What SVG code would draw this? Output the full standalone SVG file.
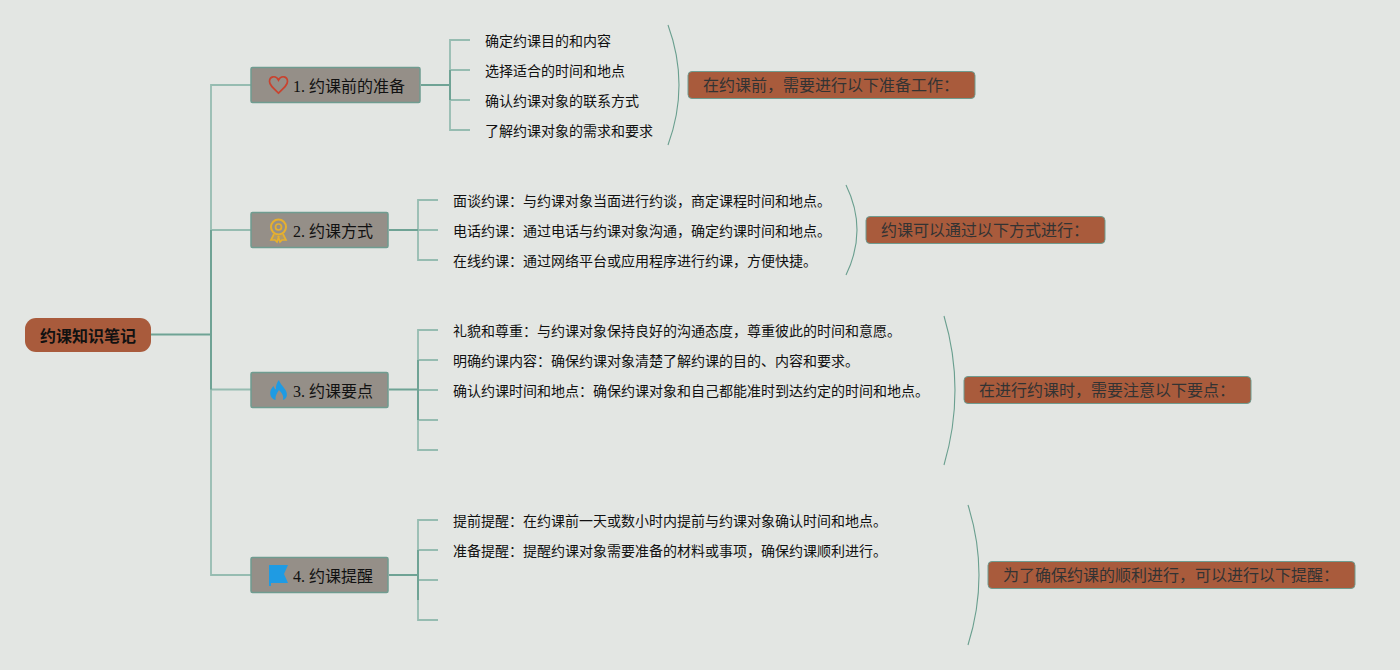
<svg xmlns="http://www.w3.org/2000/svg" width="1400" height="670" viewBox="0 0 1400 670">
<style>
text{font-family:"Noto Sans CJK SC","Noto Sans",sans-serif;fill:#111}
.leaf{font-size:14px}
.topic{font-size:16px;font-family:"Liberation Serif","Noto Sans CJK SC",serif;fill:#111}
.topic .c{font-family:"Noto Sans CJK SC",sans-serif}
.sum{font-size:16px;fill:#333}
.t{fill:#958f88;stroke:#6f9c90;stroke-width:1.5}
.s{fill:#a95b3c;stroke:#6f9c90;stroke-width:1}
.c1{fill:none;stroke:#96bcb1;stroke-width:1.8}
.c2{fill:none;stroke:#6fa395;stroke-width:2}
.br{fill:none;stroke:#6a9f8f;stroke-width:1.1}
</style>
<rect width="1400" height="670" fill="#e3e6e3"/>
<g id="connectors">
<path class="c1" d="M251 85H211V575H251M211 230H251M211 389.500H251"/>
<path class="c2" d="M151 334.500H211M211 230V389.500"/>
<path class="c1" d="M470 40H450V130H470M450 70H470M450 100H470"/>
<path class="c1" d="M438 200H418V260H438M418 230H438"/>
<path class="c1" d="M438 330H418V450H438M418 360H438M418 390H438M418 420H438"/>
<path class="c1" d="M438 520H418V620H438M418 550H438M418 580H438"/>
<path class="c2" d="M421 85H450M450 70V100M389 230H418M389 389.500H418M418 360V420M389 575H418M418 550V600"/>
<path class="br" d="M668 25Q690 85 668 145"/>
<path class="br" d="M846 185Q868 230 846 275"/>
<path class="br" d="M944 316Q966 390 944 465"/>
<path class="br" d="M968 505Q990 575 968 645"/>
</g>
<g id="root"><rect x="25" y="318" width="126" height="34" rx="11" fill="#a95b3c"/><text x="88" y="341.500" text-anchor="middle" font-size="16" font-weight="700">约课知识笔记</text></g>
<g id="topic1"><rect class="t" x="251" y="67.500" width="169" height="35" rx="1.500"/>
<path d="M278.500 93C273 88 269.500 85 269.500 81.500C269.500 76 276 75 278.500 80C281 75 287.500 76 287.500 81.500C287.500 85 284 88 278.500 93Z" fill="none" stroke="#c9432f" stroke-width="1.700"/>
<text class="topic" x="293" y="92">1. <tspan class="c">约课前的准备</tspan></text></g>
<g id="topic2"><rect class="t" x="251" y="212.500" width="137" height="35" rx="1.500"/>
<circle cx="278.500" cy="227" r="7.500" fill="none" stroke="#e6b02e" stroke-width="2"/><circle cx="278.500" cy="227" r="3" fill="none" stroke="#e6b02e" stroke-width="1.700"/>
<path d="M274 234L271 240L275 240L277 242L279 236M283 234L286 240L282 240L280 242L278 236" fill="#e6b02e" fill-opacity=".35" stroke="#e6b02e" stroke-width="1.700"/>
<text class="topic" x="293" y="237">2. <tspan class="c">约课方式</tspan></text></g>
<g id="topic3"><rect class="t" x="251" y="372.500" width="137" height="35" rx="1.500"/>
<path d="M279 380C280 384 284 387 286 391C288 395 286.500 399 283 400C284 396 282 393 279 390C277 393 275 396 275.500 400C271.500 399 269.500 395 270.500 391C271 389 272.500 387 273.500 386C274 388 275 389 276 389.500C275.500 386 277 382 279 380Z" fill="#1f9be3"/>
<text class="topic" x="293" y="397">3. <tspan class="c">约课要点</tspan></text></g>
<g id="topic4"><rect class="t" x="251" y="557.500" width="137" height="35" rx="1.500"/>
<path d="M269 565H288L284 574L288 583H271V586H269Z" fill="#1f9be3"/>
<text class="topic" x="293" y="582">4. <tspan class="c">约课提醒</tspan></text></g>
<g id="leaves1">
<text class="leaf" x="485" y="46">确定约课目的和内容</text>
<text class="leaf" x="485" y="76">选择适合的时间和地点</text>
<text class="leaf" x="485" y="106">确认约课对象的联系方式</text>
<text class="leaf" x="485" y="136">了解约课对象的需求和要求</text></g>
<g id="leaves2">
<text class="leaf" x="453" y="206">面谈约课：与约课对象当面进行约谈，商定课程时间和地点。</text>
<text class="leaf" x="453" y="236">电话约课：通过电话与约课对象沟通，确定约课时间和地点。</text>
<text class="leaf" x="453" y="266">在线约课：通过网络平台或应用程序进行约课，方便快捷。</text></g>
<g id="leaves3">
<text class="leaf" x="453" y="336">礼貌和尊重：与约课对象保持良好的沟通态度，尊重彼此的时间和意愿。</text>
<text class="leaf" x="453" y="366">明确约课内容：确保约课对象清楚了解约课的目的、内容和要求。</text>
<text class="leaf" x="453" y="396">确认约课时间和地点：确保约课对象和自己都能准时到达约定的时间和地点。</text></g>
<g id="leaves4">
<text class="leaf" x="453" y="526">提前提醒：在约课前一天或数小时内提前与约课对象确认时间和地点。</text>
<text class="leaf" x="453" y="556">准备提醒：提醒约课对象需要准备的材料或事项，确保约课顺利进行。</text></g>
<g id="summary1"><rect class="s" x="688" y="71.500" width="287" height="27" rx="4"/><text class="sum" x="703" y="91">在约课前，需要进行以下准备工作：</text></g>
<g id="summary2"><rect class="s" x="866" y="216.500" width="239" height="27" rx="4"/><text class="sum" x="881" y="236">约课可以通过以下方式进行：</text></g>
<g id="summary3"><rect class="s" x="964" y="376.500" width="287" height="27" rx="4"/><text class="sum" x="979" y="396">在进行约课时，需要注意以下要点：</text></g>
<g id="summary4"><rect class="s" x="988" y="561.500" width="367" height="27" rx="4"/><text class="sum" x="1003" y="581">为了确保约课的顺利进行，可以进行以下提醒：</text></g>
</svg>
